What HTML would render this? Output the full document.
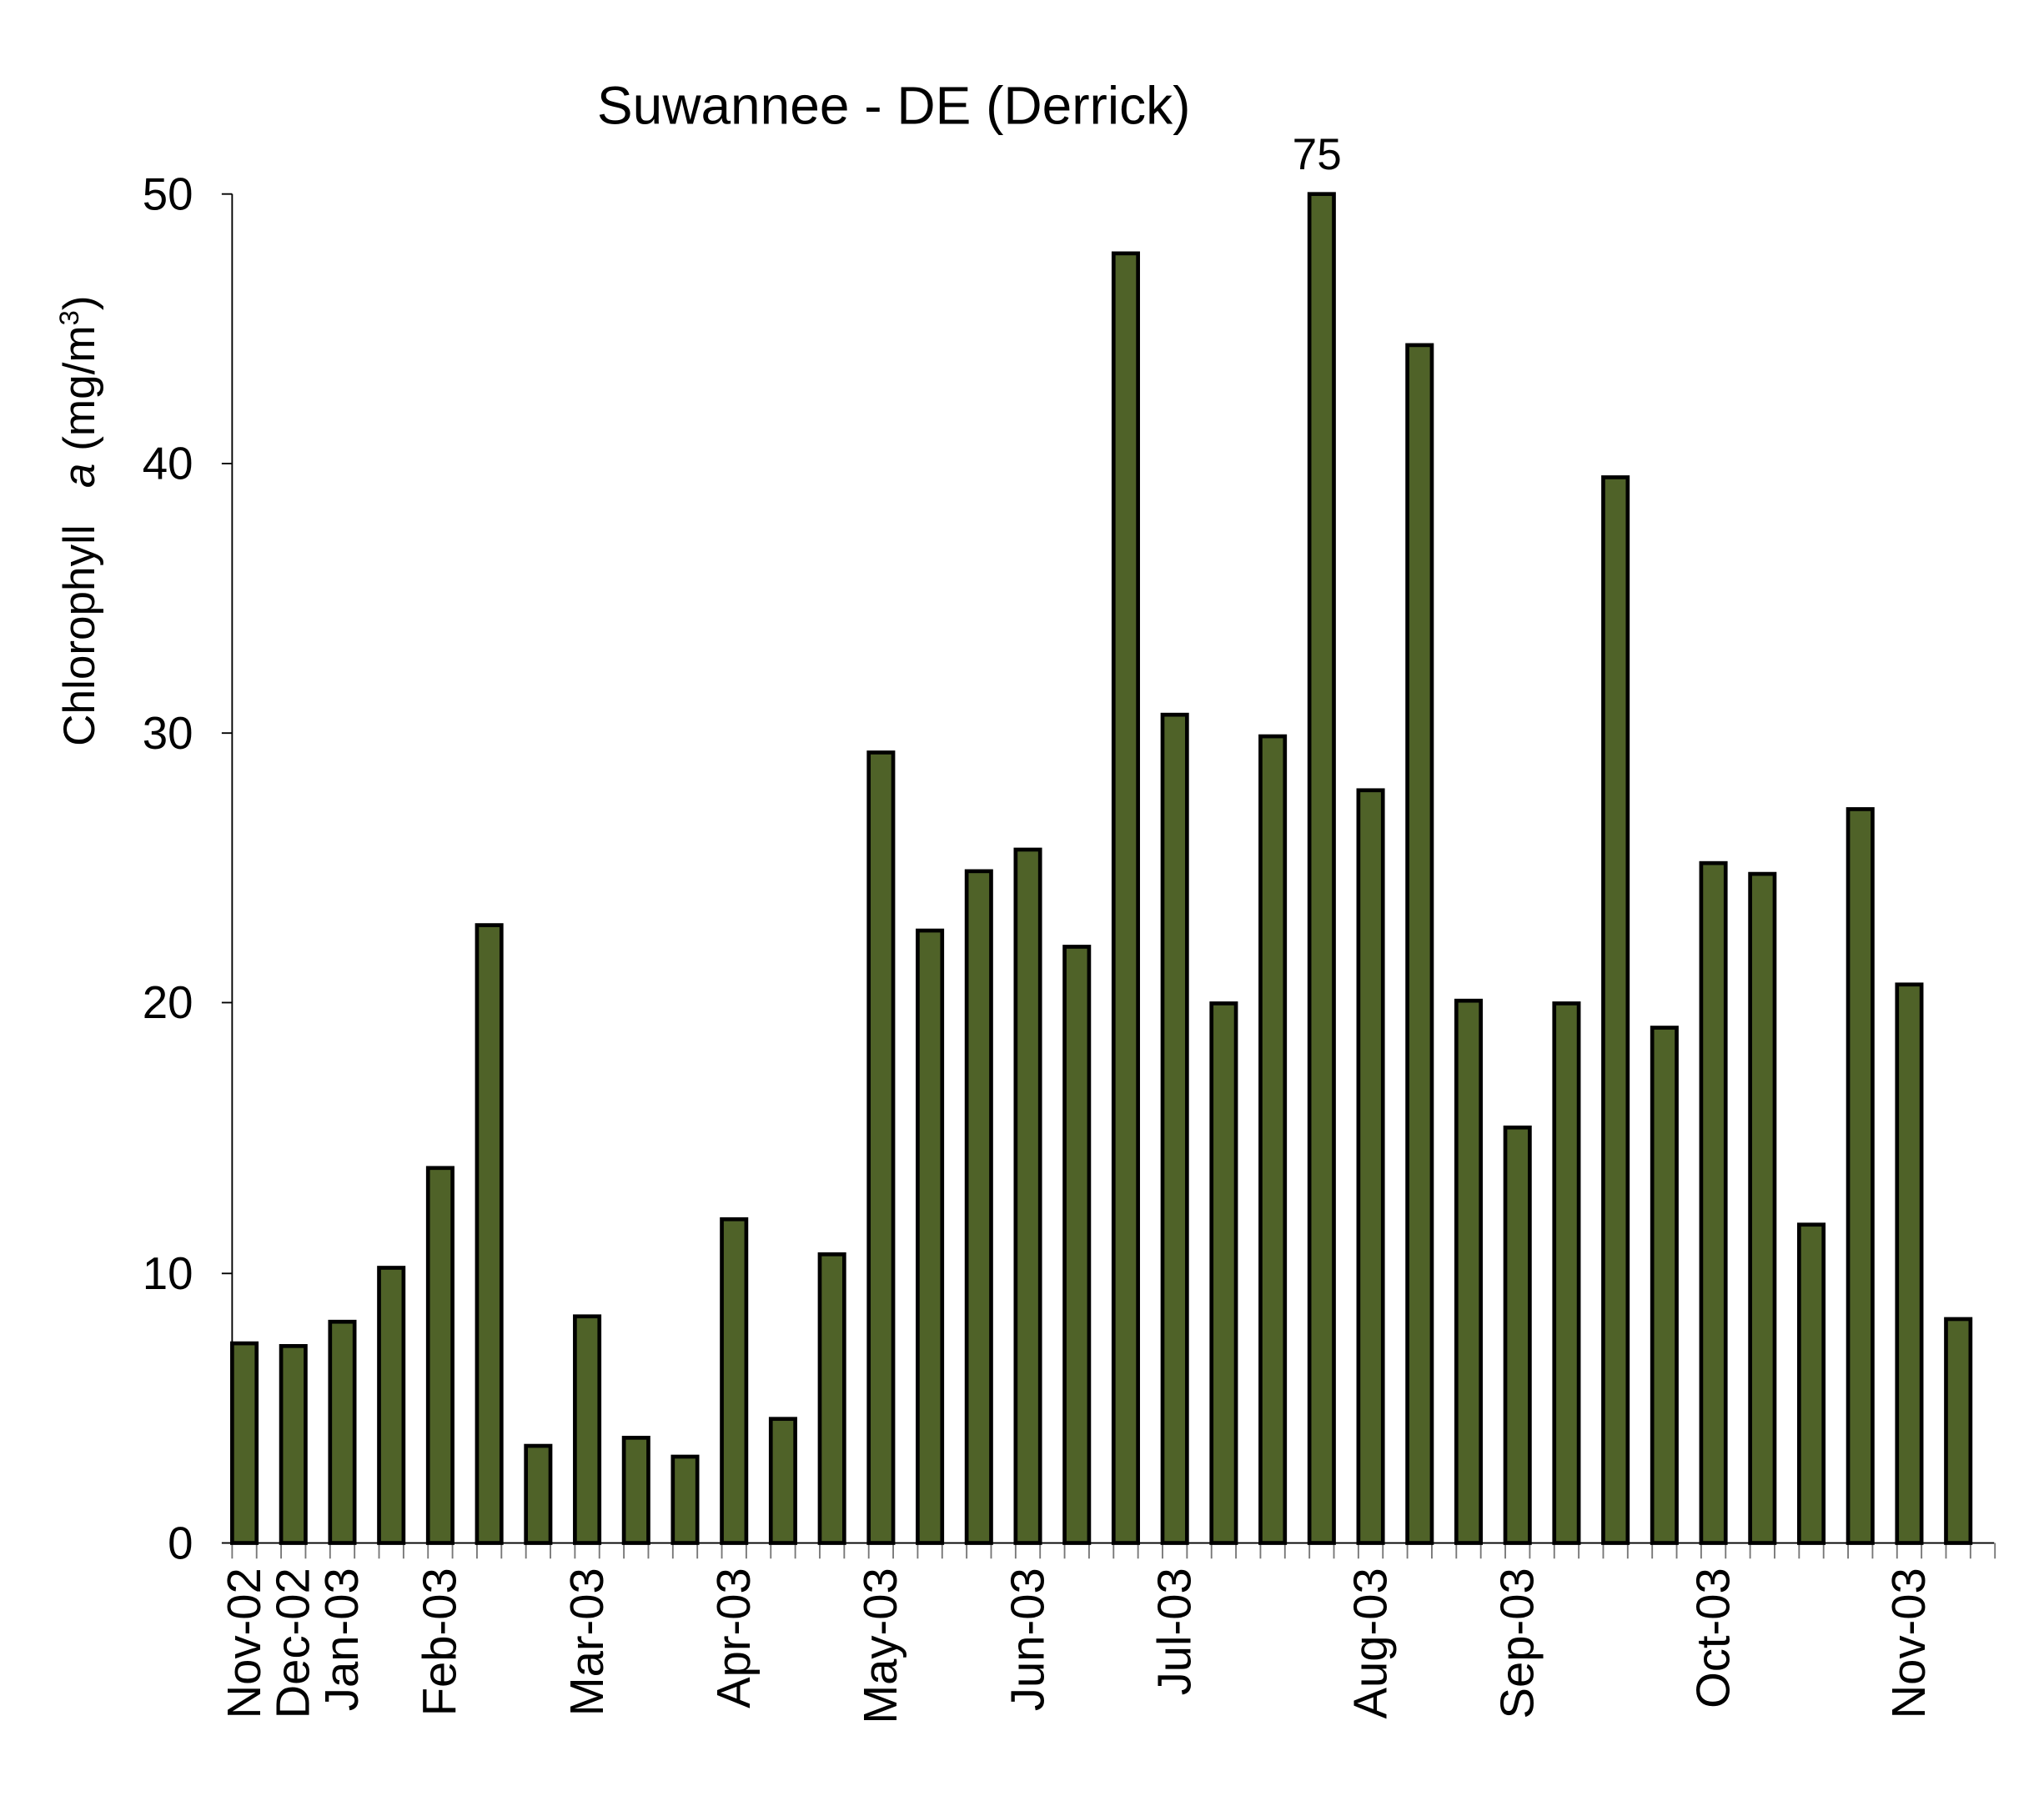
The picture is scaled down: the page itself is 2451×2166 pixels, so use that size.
<!DOCTYPE html>
<html><head><style>html,body{margin:0;padding:0;background:#fff}</style></head>
<body>
<svg xmlns="http://www.w3.org/2000/svg" width="2451" height="2166" viewBox="0 0 1569 1387" style="display:block">
<rect width="1569" height="1387" fill="#fff"/>
<g font-family="Liberation Sans, Arial, sans-serif" fill="#000">
<text x="686" y="95" font-size="41" text-anchor="middle">Suwannee - DE (Derrick)</text>
<text x="1011" y="130" font-size="34" text-anchor="middle">75</text>
<text transform="translate(72,400) rotate(-90)" font-size="34" text-anchor="middle" xml:space="preserve">Chlorophyll   <tspan font-style="italic">a</tspan> (mg/m<tspan font-size="21" dy="-12">3</tspan><tspan dy="12">)</tspan></text>
<g font-size="35" text-anchor="end">
<text x="148" y="161">50</text><text x="148" y="368">40</text><text x="148" y="575">30</text>
<text x="148" y="782">20</text><text x="148" y="990">10</text><text x="148" y="1197">0</text>
</g>
</g>
<g stroke="#000" stroke-width="1.2">
<line x1="178" y1="149" x2="178" y2="1185"/>
<line x1="170" y1="149" x2="178" y2="149"/><line x1="170" y1="356" x2="178" y2="356"/>
<line x1="170" y1="563" x2="178" y2="563"/><line x1="170" y1="770" x2="178" y2="770"/>
<line x1="170" y1="978" x2="178" y2="978"/><line x1="170" y1="1185" x2="178" y2="1185"/>
<line x1="178" y1="1185" x2="1531" y2="1185"/>
</g>
<g id="ticks" stroke="#777" stroke-width="1.2"></g>
<g id="bars" fill="#4f6228" stroke="#000" stroke-width="3"></g>
<g id="labels" font-family="Liberation Sans, Arial, sans-serif" font-size="36" text-anchor="end"></g>
<script>
var v=[7.4,7.3,8.2,10.2,13.9,22.9,3.6,8.4,3.9,3.2,12,4.6,10.7,29.3,22.7,24.9,25.7,22.1,47.8,30.7,20,29.9,50,27.9,44.4,20.1,15.4,20,39.5,19.1,25.2,24.8,11.8,27.2,20.7,8.3];
var ns="http://www.w3.org/2000/svg",u=18.8,x0=178,b=1185;
var bars=document.getElementById("bars"),t=document.getElementById("ticks"),lb=document.getElementById("labels");
v.forEach(function(d,i){var r=document.createElementNS(ns,"rect");var x=x0+i*2*u;var h=d*20.72;
r.setAttribute("x",x);r.setAttribute("y",b-h);r.setAttribute("width",u);r.setAttribute("height",h);bars.appendChild(r);});
for(var k=0;k<=72;k++){var l=document.createElementNS(ns,"line");var x=x0+k*u;l.setAttribute("x1",x);l.setAttribute("x2",x);l.setAttribute("y1",b);l.setAttribute("y2",b+12);t.appendChild(l);}
var L=[[0,"Nov-02"],[1,"Dec-02"],[2,"Jan-03"],[4,"Feb-03"],[7,"Mar-03"],[10,"Apr-03"],[13,"May-03"],[16,"Jun-03"],[19,"Jul-03"],[23,"Aug-03"],[26,"Sep-03"],[30,"Oct-03"],[34,"Nov-03"]];
L.forEach(function(p){var x=x0+p[0]*2*u+u/2+12;var e=document.createElementNS(ns,"text");e.setAttribute("transform","translate("+x+",1204) rotate(-90)");e.textContent=p[1];lb.appendChild(e);});
</script>
</svg>
</body></html>
